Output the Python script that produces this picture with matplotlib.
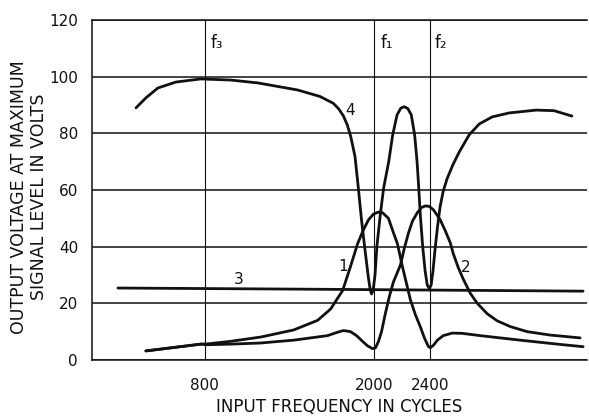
import matplotlib
matplotlib.use("Agg")
import matplotlib.pyplot as plt

# ---- data ----
x_ticks = [800, 2000, 2400]
x_tick_labels = ["800", "2000", "2400"]
y_ticks = [0, 20, 40, 60, 80, 100, 120]
marker_names = ["f₃", "f₁", "f₂"]

curve1_x = [382, 772, 821, 984, 1196, 1430, 1600, 1692, 1777, 1833, 1883, 1925, 1961,
            1996, 2031, 2060, 2102, 2137, 2166, 2201, 2230, 2258, 2293, 2329, 2357,
            2385, 2399, 2421, 2449, 2491, 2555, 2626, 2753, 3036, 3319, 3482]
curve1_y = [3.2, 5.6, 5.7, 6.6, 8.1, 10.6, 14.0, 18.0, 24.5, 33.0, 41.0, 46.0, 49.5,
            51.5, 52.2, 52.0, 50.0, 45.0, 41.0, 33.0, 27.0, 21.2, 16.0, 11.6, 7.8,
            4.8, 4.3, 5.2, 7.0, 8.6, 9.5, 9.4, 8.6, 7.0, 5.5, 4.7]

curve2_x = [382, 772, 821, 984, 1196, 1430, 1670, 1741, 1784, 1833, 1876, 1918, 1954,
            1989, 2010, 2031, 2053, 2081, 2109, 2137, 2187, 2215, 2244, 2272, 2307,
            2336, 2364, 2392, 2421, 2449, 2470, 2506, 2541, 2562, 2598, 2633, 2683,
            2732, 2803, 2874, 2966, 3086, 3249, 3461]
curve2_y = [3.2, 5.6, 5.4, 5.6, 6.0, 7.0, 8.6, 9.8, 10.4, 10.0, 8.6, 6.6, 5.0,
            4.0, 4.3, 6.5, 10.0, 16.6, 22.5, 27.5, 33.5, 39.5, 44.8, 49.0, 52.0,
            53.8, 54.4, 54.2, 53.0, 51.0, 49.4, 45.5, 41.3, 37.5, 32.5, 28.5, 23.5,
            20.0, 16.3, 13.8, 11.8, 10.0, 8.8, 7.8]

curve3_x = [184, 1500, 3482]
curve3_y = [25.4, 25.0, 24.3]

curve4_x = [312, 382, 467, 595, 772, 984, 1175, 1458, 1617, 1711, 1750, 1782, 1810,
            1835, 1865, 1888, 1912, 1936, 1959, 1972, 1982, 1993, 2007, 2020, 2044,
            2068, 2104, 2132, 2163, 2190, 2215, 2240, 2264, 2288, 2305, 2317, 2328,
            2345, 2362, 2377, 2392, 2405, 2418, 2432, 2450, 2468, 2490, 2518, 2560,
            2605, 2675, 2746, 2838, 2958, 3149, 3276, 3403]
curve4_y = [89.0, 92.5, 96.0, 98.1, 99.2, 98.8, 97.8, 95.3, 93.0, 90.6, 88.6, 86.2, 83.0,
            78.8, 71.8, 61.0, 49.0, 38.8, 29.4, 25.0, 23.3, 24.5, 30.0, 40.0, 51.2,
            60.7, 70.0, 79.4, 86.5, 88.9, 89.4, 88.7, 86.5, 79.4, 70.0, 60.7, 51.2,
            40.0, 31.5, 26.5, 25.2, 26.5, 31.5, 38.8, 47.0, 54.0, 59.5, 64.0, 69.0,
            73.5, 79.5, 83.3, 85.8, 87.2, 88.2, 88.0, 86.1]

curve_labels = ["1", "2", "3", "4"]
curve_label_pos = [(1778, 33.0), (2648, 32.5), (1040, 28.5), (1829, 88.0)]
marker_label_pos = [(842, 112), (2046, 112), (2428, 112)]

# ---- figure ----
fig = plt.figure(figsize=(5.89, 4.16), dpi=100)
ax = fig.add_axes([92 / 589, 56 / 416, 495 / 589, 340 / 416])
ax.set_xlim(0, 3510)
ax.set_ylim(0, 120)

ink = "#111111"
ax.set_xticks(x_ticks)
ax.set_xticklabels(x_tick_labels)
ax.set_yticks(y_ticks)
ax.tick_params(axis="both", length=0, labelsize=11, colors=ink)
ax.tick_params(axis="y", pad=10)
ax.tick_params(axis="x", pad=13)

ax.xaxis.grid(True, color=ink, lw=0.8)
ax.yaxis.grid(True, color=ink, lw=1.1)
ax.set_axisbelow(True)
ax.spines["right"].set_visible(False)
for side in ["left", "top", "bottom"]:
    ax.spines[side].set_color(ink)
    ax.spines[side].set_linewidth(1.1)

kw = dict(color=ink, lw=2.0, solid_capstyle="round", solid_joinstyle="round")
ax.plot(curve1_x, curve1_y, **kw)
ax.plot(curve2_x, curve2_y, **kw)
ax.plot(curve3_x, curve3_y, **kw)
ax.plot(curve4_x, curve4_y, **kw)

for lab, (lx, ly) in zip(curve_labels, curve_label_pos):
    ax.text(lx, ly, lab, ha="center", va="center", fontsize=11, color=ink)
for lab, (lx, ly) in zip(marker_names, marker_label_pos):
    ax.text(lx, ly, lab, ha="left", va="center", fontsize=12, color=ink)

fig.text(339 / 589, (416 - 407) / 416, "INPUT FREQUENCY IN CYCLES",
         ha="center", va="center", fontsize=12, color=ink)
fig.text(29 / 589, (416 - 197) / 416,
         "OUTPUT VOLTAGE AT MAXIMUM\nSIGNAL LEVEL IN VOLTS",
         rotation=90, ha="center", va="center", multialignment="center",
         fontsize=12.5, color=ink, linespacing=1.15)

fig.savefig("out.png", dpi=100, facecolor="white")
